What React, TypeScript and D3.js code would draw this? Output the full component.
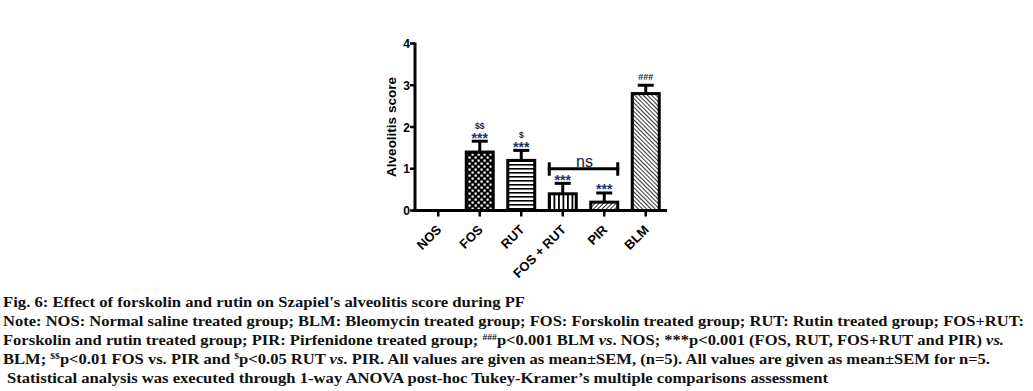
import React from "react";
import * as d3 from "d3";

const categories = ["NOS", "FOS", "RUT", "FOS + RUT", "PIR", "BLM"];
const means = [0, 1.4, 1.2, 0.4, 0.2, 2.8];
const sems = [0, 0.26, 0.24, 0.25, 0.22, 0.2];
const fills = ["none", "check", "hlines", "vlines", "diagFwd", "diagBack"];
const starLabels = ["", "***", "***", "***", "***", ""];
const upperLabels = ["", "$$", "$", "", "", "###"];
const yTicks = [0, 1, 2, 3, 4];
const nsFrom = "FOS + RUT";
const nsTo = "PIR";
const nsLevel = 1.0;
const nsText = "ns";
const yTitle = "Alveolitis score";

type Seg = { t: string; sup?: boolean; it?: boolean };
const captionLines: Seg[][] = [
  [{ t: "Fig. 6: Effect of forskolin and rutin on Szapiel's alveolitis score during PF" }],
  [{ t: "Note: NOS: Normal saline treated group; BLM: Bleomycin treated group; FOS: Forskolin treated group; RUT: Rutin treated group; FOS+RUT:" }],
  [
    { t: "Forskolin and rutin treated group; PIR: Pirfenidone treated group; " },
    { t: "###", sup: true },
    { t: "p<0.001 BLM " },
    { t: "vs", it: true },
    { t: ". NOS; ***p<0.001 (FOS, RUT, FOS+RUT and PIR) " },
    { t: "vs.", it: true },
  ],
  [
    { t: "BLM; " },
    { t: "$$", sup: true },
    { t: "p<0.01 FOS vs. PIR and " },
    { t: "$", sup: true },
    { t: "p<0.05 RUT " },
    { t: "vs", it: true },
    { t: ". PIR. All values are given as mean±SEM, (n=5). All values are given as mean±SEM for n=5." },
  ],
  [{ t: "Statistical analysis was executed through 1-way ANOVA post-hoc Tukey-Kramer\u2019s multiple comparisons assessment" }],
];
const captionStarts = [3, 3, 3, 3, 7];
const captionEnds = [525, 1024, 1004, 990, 828];

const W = 1033;
const H = 391;
const axisX = 415;
const axisRight = 667;
const y0px = 210.5;
const y4px = 43.5;

export default function App() {
  const x = d3
    .scaleBand<string>()
    .domain(categories)
    .range([417.5, 666.5])
    .paddingInner(0.35)
    .paddingOuter(0.175);
  const y = d3.scaleLinear().domain([0, 4]).range([y0px, y4px]);
  const bw = x.bandwidth();
  const sans = "'Liberation Sans', Arial, sans-serif";
  const serif = "'Liberation Serif', 'Times New Roman', serif";

  const fillFor = (f: string) => (f === "none" ? "white" : `url(#${f})`);

  const nsX1 = (x(nsFrom) as number) - 1.5;
  const nsX2 = (x(nsTo) as number) + bw + 1.5;
  const nsY = y(nsLevel);

  return (
    <svg
      width={W}
      height={H}
      style={{ position: "absolute", left: 0, top: 0, background: "white" }}
    >
      <defs>
        <pattern id="check" width="6" height="6" patternUnits="userSpaceOnUse">
          <rect width="6" height="6" fill="black" />
          <rect x="0.5" y="0.5" width="2.2" height="2.2" fill="white" />
          <rect x="3.5" y="3.5" width="2.2" height="2.2" fill="white" />
        </pattern>
        <pattern id="hlines" width="4" height="4" patternUnits="userSpaceOnUse">
          <rect width="4" height="4" fill="white" />
          <rect x="0" y="0" width="4" height="1.6" fill="black" />
        </pattern>
        <pattern id="vlines" width="4.5" height="4.5" patternUnits="userSpaceOnUse">
          <rect width="4.5" height="4.5" fill="white" />
          <rect x="0" y="0" width="1.8" height="4.5" fill="black" />
        </pattern>
        <pattern id="diagFwd" width="3" height="3" patternUnits="userSpaceOnUse" patternTransform="rotate(45)">
          <rect width="3" height="3" fill="white" />
          <rect x="0" y="0" width="1" height="3" fill="#333" />
        </pattern>
        <pattern id="diagBack" width="3" height="3" patternUnits="userSpaceOnUse" patternTransform="rotate(-45)">
          <rect width="3" height="3" fill="white" />
          <rect x="0" y="0" width="1" height="3" fill="#333" />
        </pattern>
      </defs>

      {/* bars */}
      {categories.map((c, i) =>
        means[i] > 0 ? (
          <g key={c}>
            <line
              x1={(x(c) as number) + bw / 2}
              x2={(x(c) as number) + bw / 2}
              y1={y(means[i])}
              y2={y(means[i] + sems[i])}
              stroke="black"
              strokeWidth={3}
            />
            <line
              x1={(x(c) as number) + bw / 2 - 8}
              x2={(x(c) as number) + bw / 2 + 8}
              y1={y(means[i] + sems[i])}
              y2={y(means[i] + sems[i])}
              stroke="black"
              strokeWidth={3}
            />
            <rect
              x={x(c)}
              y={y(means[i])}
              width={bw}
              height={y0px - y(means[i])}
              fill={fillFor(fills[i])}
              stroke="black"
              strokeWidth={3}
            />
          </g>
        ) : null
      )}

      {/* annotations */}
      {categories.map((c, i) => {
        const cx = (x(c) as number) + bw / 2;
        const cap = y(means[i] + sems[i]);
        const starBase = cap + 1.5;
        return (
          <g key={"a" + c}>
            {starLabels[i] && (
              <text x={cx} y={starBase} textAnchor="middle" fontFamily={sans} fontWeight="bold" fontSize={14} fill="#1e2f6e">
                {starLabels[i]}
              </text>
            )}
            {upperLabels[i] && (
              <text
                x={cx}
                y={starLabels[i] ? starBase - 13.5 : cap - 5.5}
                textAnchor="middle"
                fontFamily={sans}
                fontWeight="bold"
                fontSize={upperLabels[i] === "###" ? 9 : 8.5}
                fill="#1a1a40"
              >
                {upperLabels[i]}
              </text>
            )}
          </g>
        );
      })}

      {/* ns bracket */}
      <line x1={nsX1} x2={nsX2} y1={nsY} y2={nsY} stroke="black" strokeWidth={3} />
      <line x1={nsX1 + 1.5} x2={nsX1 + 1.5} y1={nsY - 6.5} y2={nsY + 7} stroke="black" strokeWidth={3} />
      <line x1={nsX2 - 1.5} x2={nsX2 - 1.5} y1={nsY - 6.5} y2={nsY + 7} stroke="black" strokeWidth={3} />
      <text x={(nsX1 + nsX2) / 2 + 1} y={nsY - 1.5} textAnchor="middle" fontFamily={sans} fontSize={16} fill="#15183a">
        {nsText}
      </text>

      {/* axes */}
      <line x1={axisX} x2={axisX} y1={y4px - 1} y2={y0px + 1.5} stroke="black" strokeWidth={3} />
      <line x1={axisX - 1.5} x2={axisRight} y1={y0px} y2={y0px} stroke="black" strokeWidth={3} />
      {yTicks.map((t) => (
        <g key={"yt" + t}>
          <line x1={axisX - 5} x2={axisX} y1={y(t)} y2={y(t)} stroke="black" strokeWidth={2.5} />
          <text x={axisX - 5} y={y(t) + 4.5} textAnchor="end" fontFamily={sans} fontWeight="bold" fontSize={12} fill="black">
            {t}
          </text>
        </g>
      ))}
      {categories.map((c) => {
        const cx = (x(c) as number) + bw / 2;
        return (
          <g key={"xt" + c}>
            <line x1={cx} x2={cx} y1={y0px} y2={y0px + 6} stroke="black" strokeWidth={2.5} />
            <text
              transform={`translate(${cx + 4},${y0px + 20}) rotate(-45)`}
              textAnchor="end"
              fontFamily={sans}
              fontWeight="bold"
              fontSize={13}
              fill="black"
            >
              {c}
            </text>
          </g>
        );
      })}
      <text
        transform={`translate(396,${(y0px + y4px) / 2}) rotate(-90)`}
        textAnchor="middle"
        fontFamily={sans}
        fontWeight="bold"
        fontSize={13.5}
        fill="black"
      >
        {yTitle}
      </text>

      {/* caption */}
      {captionLines.map((segs, li) => (
        <text
          key={"cap" + li}
          x={captionStarts[li]}
          y={307 + li * 19}
          fontFamily={serif}
          fontWeight="bold"
          fontSize={15.5}
          fill="#111"
          textLength={captionEnds[li] - captionStarts[li]}
          lengthAdjust="spacingAndGlyphs"
        >
          {segs.map((s, si) =>
            s.sup ? (
              <tspan key={si} fontSize={9} baselineShift="super">
                {s.t}
              </tspan>
            ) : (
              <tspan key={si} fontStyle={s.it ? "italic" : "normal"}>
                {s.t}
              </tspan>
            )
          )}
        </text>
      ))}
    </svg>
  );
}
